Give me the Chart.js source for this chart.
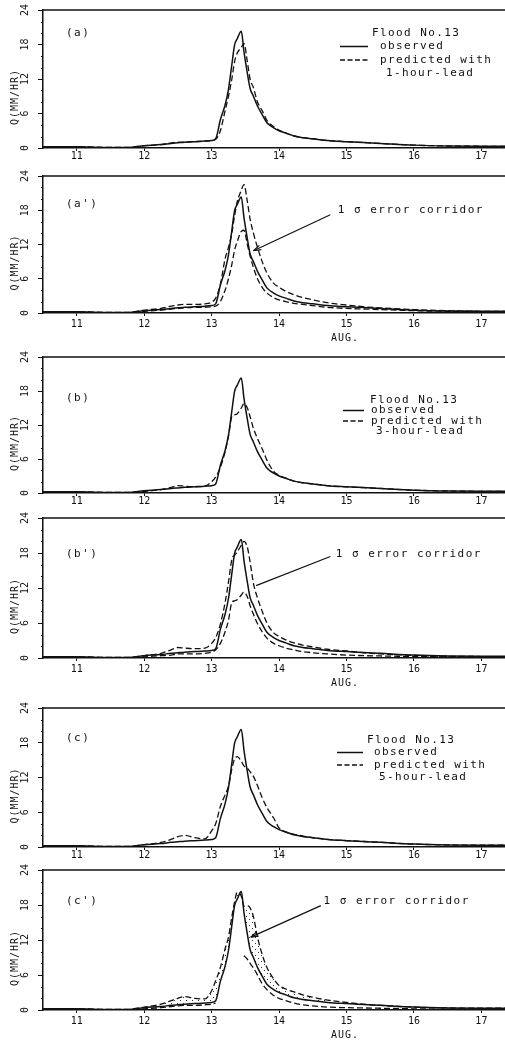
<!DOCTYPE html>
<html>
<head>
<meta charset="utf-8">
<script src="https://cdn.jsdelivr.net/npm/chart.js@4.4.1/dist/chart.umd.min.js"></script>
<style>
  html, body { margin: 0; padding: 0; background: #fff; }
  body { width: 505px; height: 1045px; position: relative; overflow: hidden; }
  canvas { position: absolute; left: 0; }
</style>
</head>
<body>
<canvas id="pa"></canvas>
<canvas id="pa2"></canvas>
<canvas id="pb"></canvas>
<canvas id="pb2"></canvas>
<canvas id="pc"></canvas>
<canvas id="pc2"></canvas>
<script>
// Flood No.13 - observed vs predicted runoff (days of August)
const days = [10.5, 11.0, 11.5, 11.75, 12.0, 12.25, 12.4, 12.5, 12.6, 12.75, 12.9, 13.0,
  13.06, 13.13, 13.2, 13.25, 13.3, 13.34, 13.38, 13.44, 13.48, 13.53, 13.57, 13.62, 13.68,
  13.75, 13.82, 13.92, 14.0, 14.1, 14.22, 14.35, 14.5, 14.72, 15.0, 15.25, 15.5, 16.0, 16.5, 17.0, 17.35];

const observed = [0.2, 0.2, 0.1, 0.1, 0.4, 0.6, 0.8, 0.9, 1.0, 1.1, 1.2, 1.3,
  1.6, 4.9, 7.5, 10.2, 14.5, 17.9, 19.0, 20.3, 16.7, 13.0, 10.4, 9.0, 7.3,
  5.8, 4.4, 3.5, 3.0, 2.6, 2.1, 1.8, 1.6, 1.3, 1.1, 0.95, 0.8, 0.5, 0.35, 0.3, 0.3];

const pred1h = [0.2, 0.2, 0.1, 0.1, 0.4, 0.6, 0.9, 1.0, 1.0, 1.1, 1.2, 1.3,
  1.5, 3.0, 6.5, 9.0, 12.0, 15.0, 16.5, 17.5, 18.2, 15.0, 12.0, 10.5, 8.0,
  6.5, 4.8, 3.7, 3.1, 2.6, 2.1, 1.8, 1.6, 1.3, 1.1, 0.95, 0.8, 0.5, 0.35, 0.3, 0.3];
const upper1h = [0.2, 0.2, 0.1, 0.1, 0.5, 0.8, 1.2, 1.4, 1.5, 1.5, 1.6, 1.9,
  2.6, 5.0, 9.5, 11.5, 14.0, 17.0, 19.5, 21.5, 22.5, 19.5, 16.5, 14.0, 11.5,
  9.0, 7.0, 5.2, 4.5, 3.8, 3.2, 2.7, 2.3, 1.8, 1.4, 1.1, 0.9, 0.6, 0.4, 0.3, 0.3];
const lower1h = [0.1, 0.1, 0.05, 0.05, 0.3, 0.5, 0.7, 0.8, 0.9, 1.0, 1.0, 1.1,
  1.2, 2.0, 4.0, 6.0, 8.5, 11.0, 12.5, 14.3, 14.5, 12.0, 10.0, 8.0, 6.0,
  4.5, 3.5, 2.7, 2.3, 2.0, 1.7, 1.5, 1.3, 1.0, 0.8, 0.7, 0.6, 0.4, 0.3, 0.25, 0.2];

const pred3h = [0.2, 0.2, 0.1, 0.1, 0.3, 0.6, 1.0, 1.3, 1.2, 1.1, 1.2, 2.0,
  2.8, 4.5, 7.3, 10.0, 13.5, 13.8, 14.0, 15.0, 15.8, 15.0, 13.5, 11.4, 9.6,
  7.8, 5.8, 3.8, 3.1, 2.6, 2.1, 1.8, 1.6, 1.3, 1.1, 0.95, 0.8, 0.5, 0.35, 0.3, 0.3];
const upper3h = [0.2, 0.2, 0.1, 0.1, 0.4, 0.8, 1.4, 1.8, 1.7, 1.6, 1.7, 2.5,
  3.5, 5.8, 9.5, 13.0, 16.9, 17.6, 18.2, 19.3, 20.0, 19.0, 16.5, 12.8, 10.3,
  8.0, 6.0, 4.3, 3.7, 3.1, 2.6, 2.2, 1.9, 1.5, 1.2, 0.9, 0.7, 0.45, 0.3, 0.25, 0.2];
const lower3h = [0.1, 0.1, 0.05, 0.05, 0.2, 0.4, 0.5, 0.7, 0.7, 0.7, 0.8, 1.0,
  1.4, 2.5, 4.5, 6.5, 9.5, 9.8, 10.0, 10.8, 11.3, 10.5, 9.0, 7.5, 5.9,
  4.5, 3.4, 2.5, 2.1, 1.7, 1.4, 1.1, 0.9, 0.7, 0.5, 0.4, 0.35, 0.25, 0.2, 0.15, 0.1];

const pred5h = [0.2, 0.2, 0.1, 0.1, 0.4, 0.8, 1.3, 1.8, 2.0, 1.6, 1.4, 2.8,
  4.0, 7.0, 9.0, 10.5, 13.5, 15.2, 15.6, 14.8, 14.0, 13.6, 13.0, 12.2, 10.6,
  8.5, 6.8, 5.0, 3.3, 2.6, 2.2, 1.9, 1.6, 1.3, 1.1, 0.95, 0.8, 0.5, 0.35, 0.3, 0.3];
const upper5h = [0.2, 0.2, 0.1, 0.1, 0.5, 1.0, 1.6, 2.0, 2.3, 2.0, 1.9, 3.3,
  5.0, 7.3, 10.5, 12.5, 16.0, 18.5, 20.2, 19.5, 17.8, 17.9, 17.5, 16.0, 12.5,
  9.5, 7.3, 5.3, 4.2, 3.6, 3.1, 2.6, 2.2, 1.7, 1.3, 1.0, 0.8, 0.5, 0.35, 0.3, 0.3];
const lower5h = [0.1, 0.1, 0.05, 0.05, 0.2, 0.4, 0.6, 0.7, 0.8, 0.8, 0.9, 1.0,
  1.2, null, null, null, null, null, null, null, 9.3, 8.7, 8.0, 7.2, 6.0,
  4.5, 3.5, 2.5, 2.0, 1.6, 1.2, 0.9, 0.7, 0.5, 0.4, 0.35, 0.3, 0.2, 0.15, 0.1, 0.1];

const xTicks = [11, 12, 13, 14, 15, 16, 17];
const yTicks = [0, 6, 12, 18, 24];

const FONT = '"DejaVu Sans Mono", "Liberation Mono", monospace';
const INK = '#111';

const panels = [
  { id: 'pa', label: '(a)', top: 10, bottom: 148, labelY: 20, aug: false,
    series: [{ v: observed }, { v: pred1h, dash: true }],
    legend: { lead: '1-hour-lead', y0: 23, dy: 13.5, line: [340, 368], titleX: 372, textX: 376, leadX: 382 } },
  { id: 'pa2', label: "(a')", top: 176, bottom: 313, labelY: 19, aug: true,
    series: [{ v: observed }, { v: upper1h, dash: true }, { v: lower1h, dash: true }],
    note: { text: [14.87, 18.1], from: [14.76, 17.2], to: [13.62, 10.9], head: true } },
  { id: 'pb', label: '(b)', top: 357, bottom: 493, labelY: 16.8, aug: false,
    series: [{ v: observed }, { v: pred3h, dash: true }],
    legend: { lead: '3-hour-lead', y0: 43, dy: 10.5, line: [343, 364], titleX: 370, textX: 367, leadX: 372 } },
  { id: 'pb2', label: "(b')", top: 518, bottom: 658, labelY: 17.8, aug: true,
    series: [{ v: observed }, { v: upper3h, dash: true }, { v: lower3h, dash: true }],
    note: { text: [14.84, 17.8], from: [14.76, 17.4], to: [13.66, 12.4], head: false } },
  { id: 'pc', label: '(c)', top: 708, bottom: 847, labelY: 18.8, aug: false,
    series: [{ v: observed }, { v: pred5h, dash: true }],
    legend: { lead: '5-hour-lead', y0: 32, dy: 12.5, line: [337, 363], titleX: 367, textX: 370, leadX: 375 } },
  { id: 'pc2', label: "(c')", top: 870, bottom: 1010, labelY: 18.6, aug: true,
    series: [{ v: observed }, { v: upper5h, dash: true, fillTo: 0 }, { v: lower5h, dash: true }],
    note: { text: [14.66, 18.6], from: [14.62, 17.9], to: [13.58, 12.5], head: true } }
];

function dotPattern(ctx) {
    // pointillé léger pour le corridor d'erreur
    const c = document.createElement('canvas');
    c.width = 6; c.height = 6;
    const g = c.getContext('2d');
    g.fillStyle = '#333';
    g.fillRect(0, 0, 1, 1);
    g.fillRect(3, 3, 1, 1);
    return ctx.createPattern(c, 'repeat');
}

function spacedText(ctx, txt, x, y, spacing) {
    ctx.letterSpacing = spacing + 'px';
    ctx.fillText(txt, x, y);
    ctx.letterSpacing = '0px';
}

function makeDecor(p) {
    return {
        id: 'decor_' + p.id,
        afterDraw(chart) {
            const ctx = chart.ctx;
            const area = chart.chartArea;
            const xs = chart.scales.x, ys = chart.scales.y;
            ctx.save();
            ctx.fillStyle = INK;
            ctx.strokeStyle = INK;

            // cadre du haut
            ctx.lineWidth = 1.5;
            ctx.beginPath();
            ctx.moveTo(area.left, area.top);
            ctx.lineTo(area.right, area.top);
            ctx.stroke();

            // petites graduations de l'axe Y
            ctx.lineWidth = 1;
            for (let v = 2; v < 24; v += 2) {
                if (v % 6 === 0) continue;
                const py = Math.round(ys.getPixelForValue(v)) + 0.5;
                ctx.beginPath();
                ctx.moveTo(area.left - 2, py);
                ctx.lineTo(area.left, py);
                ctx.stroke();
            }

            // étiquettes Y tournées
            ctx.font = '10px ' + FONT;
            ctx.textAlign = 'center';
            ctx.textBaseline = 'middle';
            yTicks.forEach(v => {
                ctx.save();
                ctx.translate(25, ys.getPixelForValue(v));
                ctx.rotate(-Math.PI / 2);
                ctx.fillText(String(v), 0, 0);
                ctx.restore();
            });

            // titre de l'axe Y
            ctx.save();
            ctx.translate(15, (area.top + area.bottom) / 2 + 18);
            ctx.rotate(-Math.PI / 2);
            ctx.font = '10px ' + FONT;
            spacedText(ctx, 'Q(MM/HR)', 0, 0, 1);
            ctx.restore();

            // repère du panneau
            ctx.textAlign = 'left';
            ctx.font = '11px ' + FONT;
            spacedText(ctx, p.label, area.left + 23, ys.getPixelForValue(p.labelY), 1.5);

            if (p.legend) {
                const L = p.legend;
                const y = i => area.top + L.y0 + i * L.dy;
                spacedText(ctx, 'Flood No.13', L.titleX, y(0), 1.4);
                ctx.lineWidth = 1.5;
                ctx.beginPath();
                ctx.moveTo(L.line[0], y(1));
                ctx.lineTo(L.line[1], y(1));
                ctx.stroke();
                ctx.setLineDash([5, 2.5]);
                ctx.lineWidth = 1.3;
                ctx.beginPath();
                ctx.moveTo(L.line[0], y(2));
                ctx.lineTo(L.line[1], y(2));
                ctx.stroke();
                ctx.setLineDash([]);
                spacedText(ctx, 'observed', L.textX + 4, y(1), 1.4);
                spacedText(ctx, 'predicted with', L.textX + 4, y(2), 1.4);
                spacedText(ctx, L.lead, L.leadX + 4, y(3), 1.4);
            }

            if (p.note) {
                const N = p.note;
                const px = d => xs.getPixelForValue(d[0]);
                const py = d => ys.getPixelForValue(d[1]);
                spacedText(ctx, '1 σ error corridor', px(N.text), py(N.text), 1.5);
                const x0 = px(N.from), y0 = py(N.from), x1 = px(N.to), y1 = py(N.to);
                ctx.lineWidth = 1.2;
                ctx.beginPath();
                ctx.moveTo(x0, y0);
                ctx.lineTo(x1, y1);
                ctx.stroke();
                if (N.head) {
                    const a = Math.atan2(y1 - y0, x1 - x0);
                    ctx.beginPath();
                    ctx.moveTo(x1, y1);
                    ctx.lineTo(x1 - 8 * Math.cos(a - 0.3), y1 - 8 * Math.sin(a - 0.3));
                    ctx.moveTo(x1, y1);
                    ctx.lineTo(x1 - 8 * Math.cos(a + 0.3), y1 - 8 * Math.sin(a + 0.3));
                    ctx.stroke();
                }
            }

            if (p.aug) {
                ctx.font = '10px ' + FONT;
                ctx.textAlign = 'center';
                spacedText(ctx, 'AUG.', 345, area.bottom + 25, 1);
            }
            ctx.restore();
        }
    };
}

function createPanel(p) {
    const canvas = document.getElementById(p.id);
    const padTop = 8;
    const axisH = 20;
    const padBottom = p.aug ? 18 : 2;
    canvas.width = 505;
    canvas.height = padTop + (p.bottom - p.top) + axisH + padBottom;
    canvas.style.top = (p.top - padTop) + 'px';
    const ctx = canvas.getContext('2d');

    const datasets = p.series.map(s => ({
        data: days.map((d, k) => ({ x: d, y: s.v[k] })),
        borderColor: INK,
        borderWidth: s.dash ? 1.3 : 1.5,
        borderDash: s.dash ? [6, 3] : [],
        pointRadius: 0,
        cubicInterpolationMode: 'monotone',
        spanGaps: false,
        fill: s.fillTo !== undefined ? s.fillTo : false,
        backgroundColor: s.fillTo !== undefined ? dotPattern(ctx) : 'transparent'
    }));

    new Chart(ctx, {
        type: 'line',
        data: { datasets: datasets },
        options: {
            responsive: false,
            animation: false,
            devicePixelRatio: 1,
            layout: { padding: { top: padTop, left: 0, right: 0, bottom: padBottom } },
            plugins: { legend: { display: false }, tooltip: { enabled: false } },
            scales: {
                x: {
                    type: 'linear',
                    min: 10.5,
                    max: 17.35,
                    afterFit: s => { s.height = axisH; },
                    afterBuildTicks: s => { s.ticks = xTicks.map(v => ({ value: v })); },
                    ticks: {
                        includeBounds: false,
                        color: INK,
                        padding: p.aug ? 2 : -1,
                        font: { family: FONT, size: 10 },
                        maxRotation: 0,
                        callback: v => String(v)
                    },
                    grid: { drawOnChartArea: false, drawTicks: true, tickLength: 3, color: INK },
                    border: { display: true, color: INK, width: 1.5 }
                },
                y: {
                    min: 0,
                    max: 24,
                    afterFit: s => { s.width = 43; },
                    afterBuildTicks: s => { s.ticks = yTicks.map(v => ({ value: v })); },
                    ticks: { display: false },
                    grid: { drawOnChartArea: false, drawTicks: true, tickLength: 5, color: INK },
                    border: { display: true, color: INK, width: 1.5 }
                }
            }
        },
        plugins: [makeDecor(p)]
    });
}

document.addEventListener('DOMContentLoaded', function() {
    panels.forEach(createPanel);
});
</script>
</body>
</html>
